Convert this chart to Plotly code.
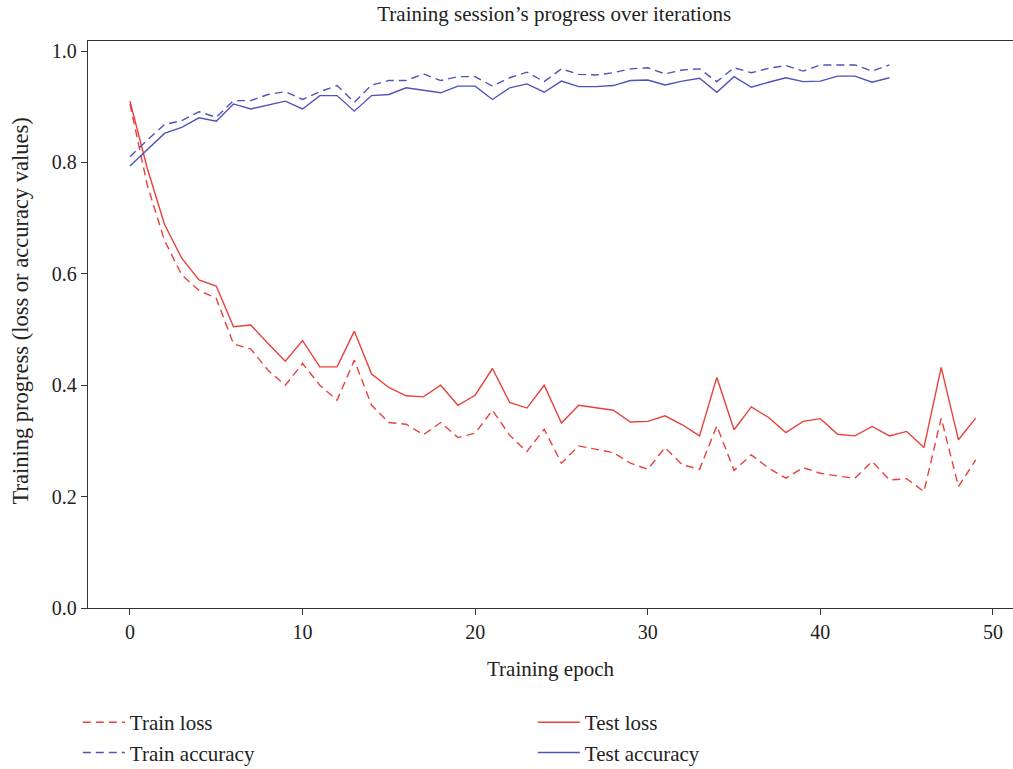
import plotly.graph_objects as go

epochs_loss = list(range(50))
epochs_acc = list(range(45))

train_loss = [0.905, 0.760, 0.660, 0.598, 0.570, 0.556, 0.474, 0.465, 0.427, 0.400,
              0.439, 0.400, 0.373, 0.445, 0.364, 0.333, 0.330, 0.311, 0.333, 0.306,
              0.314, 0.355, 0.310, 0.281, 0.321, 0.260, 0.291, 0.285, 0.279, 0.260,
              0.249, 0.288, 0.257, 0.249, 0.327, 0.247, 0.275, 0.251, 0.233, 0.252,
              0.242, 0.237, 0.233, 0.263, 0.230, 0.232, 0.209, 0.341, 0.218, 0.266]
test_loss = [0.910, 0.790, 0.689, 0.628, 0.589, 0.578, 0.505, 0.508, 0.475, 0.443,
             0.480, 0.433, 0.433, 0.497, 0.420, 0.396, 0.381, 0.379, 0.400, 0.364,
             0.382, 0.430, 0.369, 0.359, 0.400, 0.332, 0.364, 0.360, 0.355, 0.334,
             0.335, 0.345, 0.329, 0.309, 0.414, 0.320, 0.361, 0.342, 0.315, 0.335,
             0.340, 0.312, 0.309, 0.326, 0.309, 0.317, 0.288, 0.432, 0.302, 0.341]
train_acc = [0.810, 0.840, 0.868, 0.875, 0.891, 0.881, 0.911, 0.911, 0.922, 0.927,
             0.913, 0.927, 0.938, 0.908, 0.939, 0.947, 0.947, 0.959, 0.947, 0.954,
             0.954, 0.937, 0.952, 0.962, 0.945, 0.968, 0.958, 0.957, 0.961, 0.968,
             0.970, 0.959, 0.966, 0.968, 0.945, 0.970, 0.961, 0.969, 0.974, 0.964,
             0.975, 0.975, 0.975, 0.964, 0.975]
test_acc = [0.7935, 0.823, 0.852, 0.863, 0.880, 0.874, 0.905, 0.896, 0.903, 0.910,
            0.896, 0.920, 0.920, 0.892, 0.920, 0.922, 0.934, 0.929, 0.925, 0.937,
            0.937, 0.913, 0.934, 0.941, 0.926, 0.946, 0.936, 0.936, 0.938, 0.947,
            0.948, 0.939, 0.946, 0.951, 0.926, 0.954, 0.935, 0.944, 0.952, 0.945,
            0.946, 0.955, 0.955, 0.944, 0.952]

RED = "#E8413A"
BLUE = "#4F53B8"
FONT = "Liberation Serif"
DASH = "8px,5px"

fig = go.Figure()
fig.add_trace(go.Scatter(x=epochs_loss, y=train_loss, mode="lines", name="Train loss",
                         line=dict(color=RED, width=1.4, dash=DASH)))
fig.add_trace(go.Scatter(x=epochs_loss, y=test_loss, mode="lines", name="Test loss",
                         line=dict(color=RED, width=1.4)))
fig.add_trace(go.Scatter(x=epochs_acc, y=train_acc, mode="lines", name="Train accuracy",
                         line=dict(color=BLUE, width=1.4, dash=DASH)))
fig.add_trace(go.Scatter(x=epochs_acc, y=test_acc, mode="lines", name="Test accuracy",
                         line=dict(color=BLUE, width=1.4)))

fig.update_layout(
    width=1013, height=769,
    margin=dict(l=88, r=0, t=41, b=161, autoexpand=False),
    paper_bgcolor="white", plot_bgcolor="white",
    font=dict(family=FONT, size=20, color="#222222"),
    title=dict(text="Training session’s progress over iterations", x=0.504, xanchor="center",
               y=0.982, yanchor="middle", xref="paper", font=dict(family=FONT, size=21, color="#222222")),
    xaxis=dict(range=[-2.43, 51.16], tickvals=[0, 10, 20, 30, 40, 50], ticks="outside",
               ticklen=6, tickwidth=1, tickcolor="#333", showgrid=False, zeroline=False,
               showline=True, linecolor="#333", linewidth=1.3, mirror=True,
               title=dict(text="Training epoch", font=dict(size=21), standoff=19),
               tickfont=dict(size=20)),
    yaxis=dict(range=[0, 1.018], tickvals=[0, 0.2, 0.4, 0.6, 0.8, 1.0], tickformat=".1f",
               ticks="outside", ticklen=6, tickwidth=1, tickcolor="#333", showgrid=False,
               zeroline=False, showline=True, linecolor="#333", linewidth=1.3,
               tickfont=dict(size=20)),
    legend=dict(orientation="h", x=-0.011, xanchor="left", y=-0.166, yanchor="top",
                entrywidth=398, entrywidthmode="pixels", font=dict(size=21),
                tracegroupgap=0, itemwidth=42, bgcolor="rgba(0,0,0,0)"),
)

fig.add_annotation(text="Training progress (loss or accuracy values)", xref="paper", yref="paper",
                   x=-0.0735, y=0.523, xanchor="center", yanchor="middle", textangle=-90,
                   showarrow=False, font=dict(family=FONT, size=22.5, color="#222222"))

fig.write_html("out.html", config={"displayModeBar": False},
               post_script="document.body.style.margin='0';document.body.style.overflow='hidden';")
